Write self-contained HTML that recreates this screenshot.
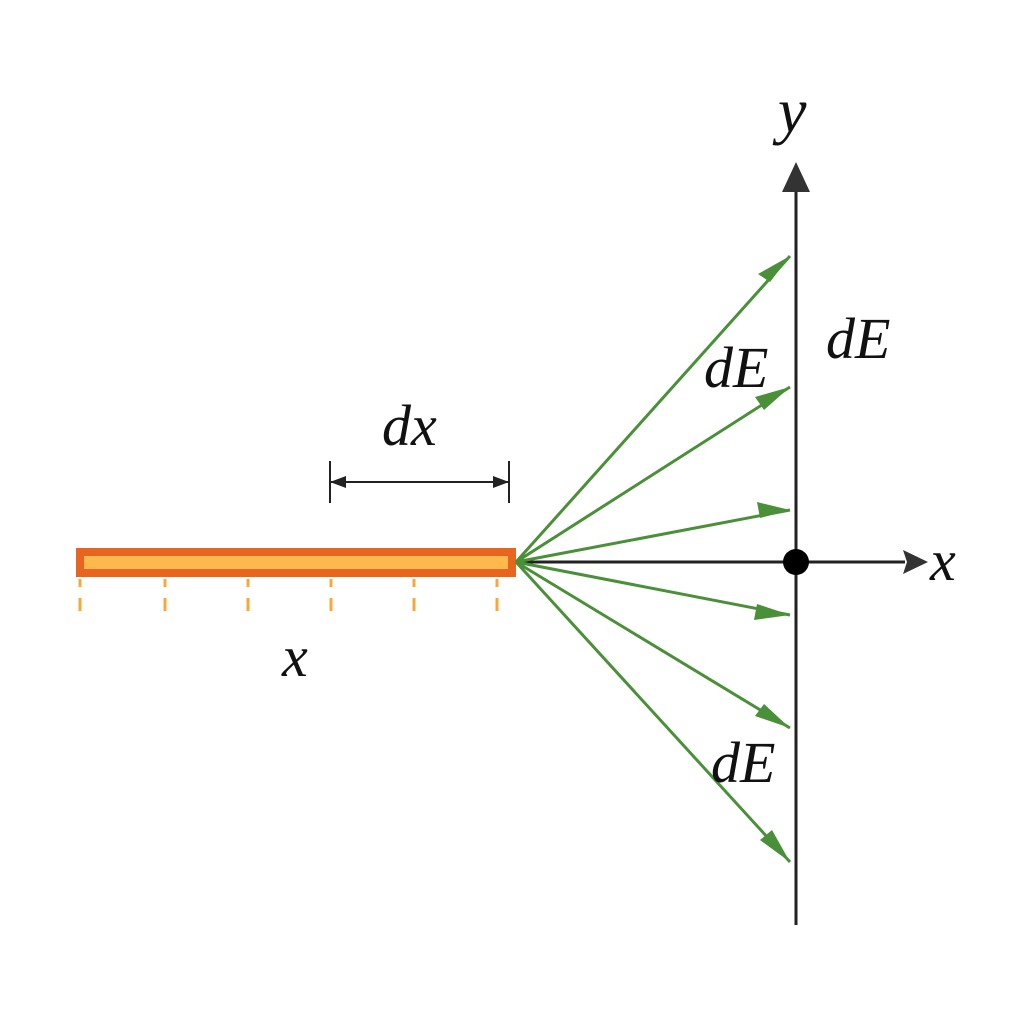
<!DOCTYPE html>
<html><head><style>body{margin:0;background:#fff}</style></head><body>
<svg width="1024" height="1024" viewBox="0 0 1024 1024" xmlns="http://www.w3.org/2000/svg">
<rect x="76" y="548" width="440" height="29" fill="#e8651f"/>
<rect x="84" y="556" width="424" height="13" fill="#fdb94e"/>
<g stroke="#f8a838" stroke-width="3">
<path d="M80,579v8M80,598v13M165,579v8M165,598v13M248,579v8M248,598v13M331,579v8M331,598v13M414,579v8M414,598v13M497,579v8M497,598v13"/>
</g>
<line x1="516" y1="562" x2="905" y2="562" stroke="#222" stroke-width="3"/>
<path d="M928,562 L903,550 L907,562 L903,574 z" fill="#333"/>
<line x1="796" y1="925" x2="796" y2="185" stroke="#222" stroke-width="3"/>
<path d="M796,162 L782,192 L810,192 z" fill="#333"/>
<circle cx="796" cy="562" r="13" fill="#000"/>
<g stroke="#4a9038" stroke-width="3" fill="none">
<line x1="516" y1="562" x2="790" y2="256"/>
<line x1="516" y1="562" x2="790" y2="387"/>
<line x1="516" y1="562" x2="790" y2="510"/>
<line x1="516" y1="562" x2="790" y2="615"/>
<line x1="516" y1="562" x2="790" y2="728"/>
<line x1="516" y1="562" x2="790" y2="862"/>
</g>
<g fill="#4a9038">
<path d="M790,256 L758,274 L770,282 z"/>
<path d="M790,387 L755,397 L764,410 z"/>
<path d="M790,510 L757,502 L760,518 z"/>
<path d="M790,615 L757,604 L754,620 z"/>
<path d="M790,728 L764,704 L755,716 z"/>
<path d="M790,862 L772,830 L760,840 z"/>
</g>
<line x1="330" y1="482" x2="509" y2="482" stroke="#222" stroke-width="2"/>
<line x1="330" y1="461" x2="330" y2="503" stroke="#222" stroke-width="2"/>
<line x1="509" y1="461" x2="509" y2="503" stroke="#222" stroke-width="2"/>
<path d="M330,482 L346,476 L346,488 z M509,482 L493,476 L493,488 z" fill="#222"/>
<g font-family="Liberation Serif, serif" font-style="italic" font-size="58" fill="#111">
<text x="778" y="132" font-size="64">y</text>
<text x="930" y="580">x</text>
<text x="382" y="445">dx</text>
<text x="282" y="676">x</text>
<text x="704" y="387">dE</text>
<text x="826" y="358">dE</text>
<text x="711" y="782">dE</text>
</g>
</svg>
</body></html>
